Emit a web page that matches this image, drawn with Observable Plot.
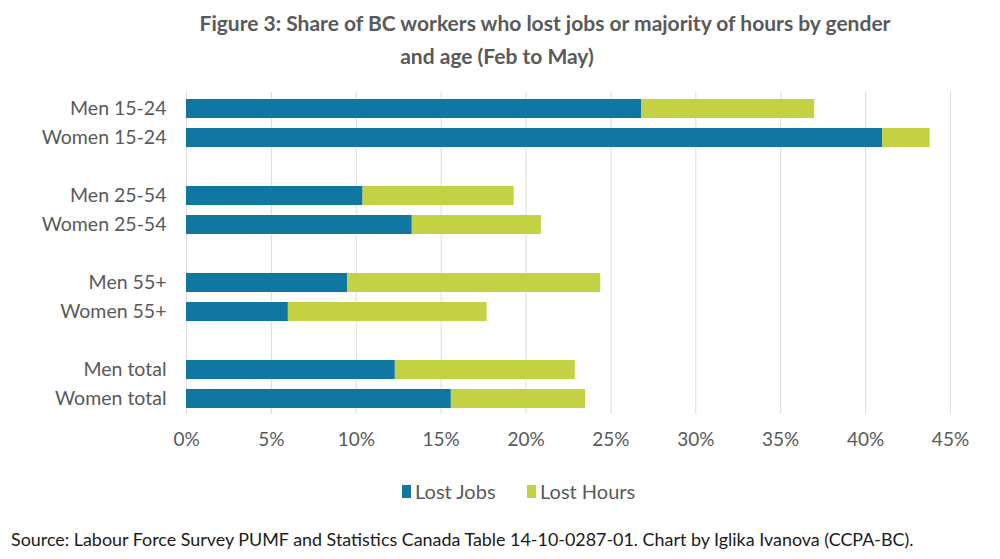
<!DOCTYPE html>
<html>
<head>
<meta charset="utf-8">
<script src="https://cdn.jsdelivr.net/npm/d3@7"></script>
<script src="https://cdn.jsdelivr.net/npm/@observablehq/plot@0.6"></script>
<style>
  html, body { margin: 0; padding: 0; background: #fff; }
  body { width: 1000px; height: 559px; overflow: hidden; font-family: Lato, "Open Sans", sans-serif; color: #595959; }
  #title { height: 80px; font-weight: bold; font-size: 21px; line-height: 33px; padding-top: 6px; box-sizing: border-box; }
  #title div { text-align: center; position: relative; }
  #chart svg { display: block; }
  #legend { height: 73px; position: relative; font-size: 20px; }
  .item { position: absolute; top: 24px; display: flex; align-items: center; }
  .sw { width: 9px; height: 13px; margin-right: 4px; }
  #caption { font-size: 17.9px; color: #1a1a1a; padding-left: 11px; white-space: nowrap; }
</style>
</head>
<body>
<div id="title"><div style="left:45px">Figure 3: Share of BC workers who lost jobs or majority of hours by gender</div><div style="left:-3px">and age (Feb to May)</div></div>
<div id="chart"></div>
<div id="legend"></div>
<div id="caption">Source: Labour Force Survey PUMF and Statistics Canada Table 14-10-0287-01. Chart by Iglika Ivanova (CCPA-BC).</div>
<script>
// Data (percent of workers)
const categories = ["Men 15-24", "Women 15-24", " ", "Men 25-54", "Women 25-54", "  ", "Men 55+", "Women 55+", "   ", "Men total", "Women total"];
const groups = ["Men 15-24", "Women 15-24", "Men 25-54", "Women 25-54", "Men 55+", "Women 55+", "Men total", "Women total"];
const lostJobs  = [26.8, 41.0, 10.4, 13.3, 9.5, 6.0, 12.3, 15.6];
const lostHours = [10.2, 2.8, 8.9, 7.6, 14.9, 11.7, 10.6, 7.9];
const seriesNames = ["Lost Jobs", "Lost Hours"];
const seriesColors = ["#0F77A1", "#C3D143"];
const xTicks = [0, 5, 10, 15, 20, 25, 30, 35, 40, 45];

const rows = [];
groups.forEach((g, i) => {
  rows.push({cat: g, series: seriesNames[0], value: lostJobs[i]});
  rows.push({cat: g, series: seriesNames[1], value: lostHours[i]});
});

const chart = Plot.plot({
  width: 1000,
  height: 375,
  marginLeft: 186,
  marginRight: 50,
  marginTop: 12,
  marginBottom: 41,
  style: {fontFamily: "Lato, 'Open Sans', sans-serif", fontSize: "19px", color: "#595959", background: "#fff"},
  x: {domain: [0, 45], ticks: xTicks, tickFormat: d => d + "%", label: null},
  y: {domain: categories, paddingInner: 0.35, paddingOuter: 0.175, label: null},
  color: {domain: seriesNames, range: seriesColors},
  marks: [
    Plot.gridX(xTicks, {stroke: "#dcdcdc", strokeOpacity: 1}),
    Plot.barX(rows, {x: "value", y: "cat", fill: "series", order: seriesNames}),
    Plot.ruleY([0], {y: d => null, frameAnchor: "bottom", stroke: "#d0d0d0", strokeWidth: 1.5}),
    Plot.axisX({ticks: xTicks, tickSize: 0, tickPadding: 18, tickFormat: d => d + "%", fill: "#595959", fontSize: 19, label: null}),
    Plot.axisY({ticks: groups, tickSize: 0, tickPadding: 20, fill: "#595959", fontSize: 19.5, label: null})
  ]
});
document.getElementById("chart").appendChild(chart);

// Legend
const leg = document.getElementById("legend");
const legendX = [402, 527];
seriesNames.forEach((s, i) => {
  const it = document.createElement("div");
  it.className = "item";
  it.style.left = legendX[i] + "px";
  it.innerHTML = `<span class="sw" style="background:${seriesColors[i]}"></span><span>${s}</span>`;
  leg.appendChild(it);
});
</script>
</body>
</html>
